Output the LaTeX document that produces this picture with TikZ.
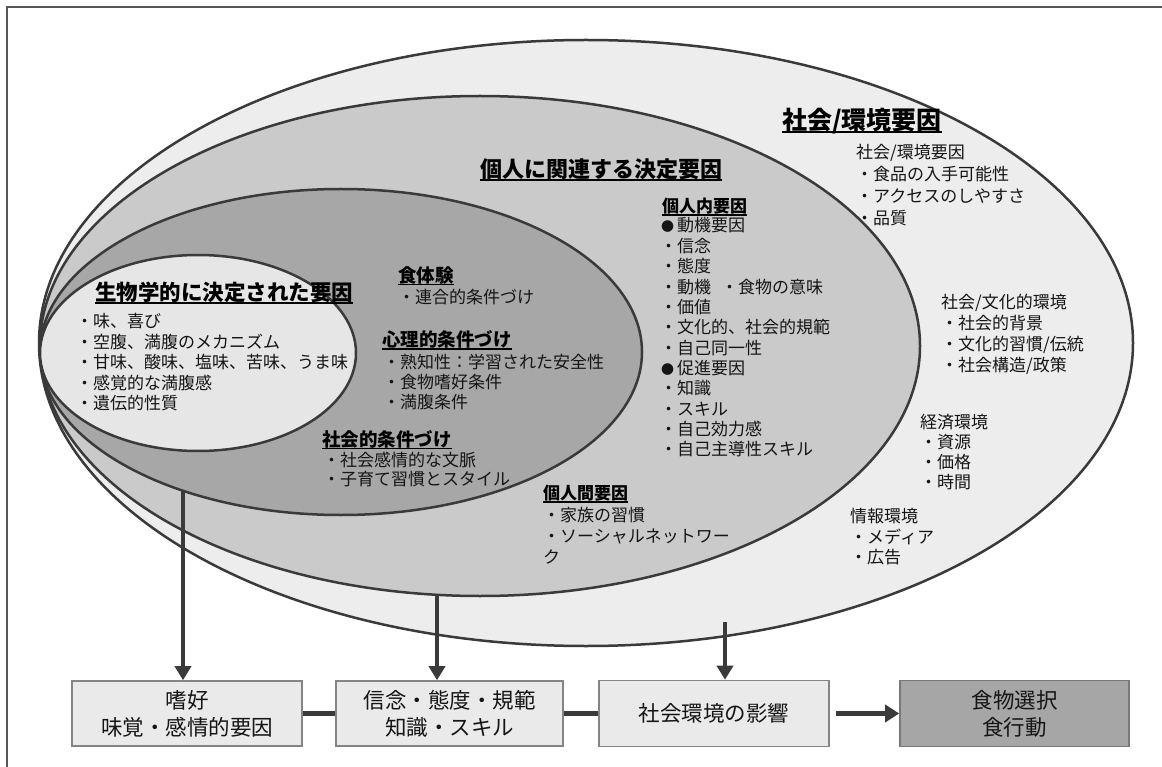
\documentclass[tikz,border=0pt]{standalone}
\usepackage{fontspec}
\setmainfont{Noto Sans CJK JP}
\usetikzlibrary{arrows.meta}
\definecolor{edgec}{HTML}{3A3A3A}
\definecolor{outerf}{HTML}{EDEDED}
\definecolor{midf}{HTML}{CACACA}
\definecolor{darkf}{HTML}{A7A7A7}
\definecolor{innerf}{HTML}{E6E6E6}
\definecolor{boxf}{HTML}{EAEAEA}
\definecolor{boxd}{HTML}{A6A6A6}
\definecolor{boxe}{HTML}{858585}
\definecolor{framec}{HTML}{555555}
\definecolor{txtc}{HTML}{151515}
\newcommand{\bigdot}{\hspace{1pt}{\fontsize{13}{13}\selectfont ●}\hspace{3pt}}
\tikzset{
  ell/.style={draw=edgec, line width=2.5pt},
  lst/.style={inner sep=0pt, anchor=north west, align=left, text=txtc, font=\fontsize{17}{20.4}\selectfont},
  one/.style={inner sep=0pt, anchor=west, text=txtc, font=\fontsize{17}{20.4}\selectfont},
  ul/.style={append after command={([yshift=-2.6pt]\tikzlastnode.base west) edge[draw=black, line width=#1] ([yshift=-2.6pt]\tikzlastnode.base east)}},
  ttl/.style={inner sep=0pt, anchor=west, text=black, font=\fontsize{#1}{#1}\selectfont\bfseries},
  bx/.style={draw=boxe, line width=1.6pt, fill=boxf, align=center, inner sep=0pt, text=txtc, font=\fontsize{21.5}{27}\selectfont},
  arr/.style={draw=edgec, line width=4.5pt, -{Triangle[width=16pt,length=14pt]}},
  conn/.style={draw=edgec, line width=5pt}
}
\begin{document}
\begin{tikzpicture}[x=1pt,y=-1pt]
\useasboundingbox (0,0) rectangle (1162,767);
\fill[white] (0,0) rectangle (1162,767);
% frame
\draw[framec, line width=1.5pt] (7,767) -- (7,7) -- (1162,7);
% ellipses
\path[ell, fill=outerf] (586,343) ellipse [x radius=547pt, y radius=303pt];
\path[ell, fill=midf] (480,346) ellipse [x radius=440pt, y radius=250pt];
\path[ell, fill=darkf] (341,352) ellipse [x radius=301pt, y radius=163pt];
\path[ell, fill=innerf] (198,353) ellipse [x radius=158pt, y radius=98pt];

% titles
\node[ttl=25, ul=2pt] (tsoc) at (782,121) {社会/環境要因};
\node[ttl=22, ul=2pt] (tind) at (480,169) {個人に関連する決定要因};
\node[ttl=21.5, ul=2pt] (tbio) at (95,292) {生物学的に決定された要因};
\node[ttl=18.5, ul=1.6pt] (tfood) at (398,275) {食体験};
\node[ttl=18.5, ul=1.6pt] (tpsy) at (382,339) {心理的条件づけ};
\node[ttl=18.5, ul=1.6pt] (tsc) at (322,439) {社会的条件づけ};
\node[ttl=17, ul=1.5pt] (tintra) at (662,206) {個人内要因};
\node[ttl=17, ul=1.5pt] (tinter) at (543,493) {個人間要因};

% lists
\node[lst] (lbio) at (76,313.5) {・味、喜び\\・空腹、満腹のメカニズム\\・甘味、酸味、塩味、苦味、うま味\\・感覚的な満腹感\\・遺伝的性質};
\node[one] (lfood) at (398,297) {・連合的条件づけ};
\node[lst, font=\fontsize{17}{20}\selectfont] (lpsy) at (383,353.5) {・熟知性：学習された安全性\\・食物嗜好条件\\・満腹条件};
\node[lst, font=\fontsize{17}{19.5}\selectfont] (lsc) at (323,451.5) {・社会感情的な文脈\\・子育て習慣とスタイル};
\node[lst, font=\fontsize{17}{20.36}\selectfont] (lintra) at (660,217.5) {\bigdot 動機要因\\・信念\\・態度\\・動機\hspace{10pt}・食物の意味\\・価値\\・文化的、社会的規範\\・自己同一性\\\bigdot 促進要因\\・知識\\・スキル\\・自己効力感\\・自己主導性スキル};
\node[lst, font=\fontsize{17}{21}\selectfont] (linter) at (543,506.5) {・家族の習慣\\・ソーシャルネットワー\\ク};
\node[lst, font=\fontsize{17}{21.7}\selectfont] (lenv) at (856,144.5) {社会/環境要因\\・食品の入手可能性\\・アクセスのしやすさ\\・品質};
\node[lst, font=\fontsize{17}{21}\selectfont] (lcul) at (941,293.5) {社会/文化的環境\\・社会的背景\\・文化的習慣/伝統\\・社会構造/政策};
\node[lst, font=\fontsize{17}{20}\selectfont] (leco) at (920,414.5) {経済環境\\・資源\\・価格\\・時間};
\node[lst, font=\fontsize{17}{20.5}\selectfont] (linf) at (850,508.5) {情報環境\\・メディア\\・広告};

% boxes
\node[bx, minimum width=230pt, minimum height=65pt] (b1) at (187,713.5) {嗜好\\味覚・感情的要因};
\node[bx, minimum width=227pt, minimum height=65pt] (b2) at (449.5,713.5) {信念・態度・規範\\知識・スキル};
\node[bx, minimum width=230pt, minimum height=66pt] (b3) at (714,713.5) {社会環境の影響};
\node[bx, fill=boxd, draw=boxe!90!black, minimum width=229pt, minimum height=66pt] (b4) at (1014.5,713.5) {食物選択\\食行動};

% arrows
\coordinate (s1) at (183,491);
\coordinate (s2) at (437,596);
\coordinate (s3) at (725,622);
\draw[arr] (s1) -- (s1 |- b1.north);
\draw[arr] (s2) -- (s2 |- b2.north);
\draw[arr] (s3) -- (s3 |- b3.north);
\draw[conn] (b1.east) -- (b2.west);
\draw[conn] (b2.east) -- (b3.west);
\draw[arr, line width=5pt, -{Triangle[width=17pt,length=14pt]}, shorten <=6pt] (b3.east) -- (b4.west);
\end{tikzpicture}
\end{document}
